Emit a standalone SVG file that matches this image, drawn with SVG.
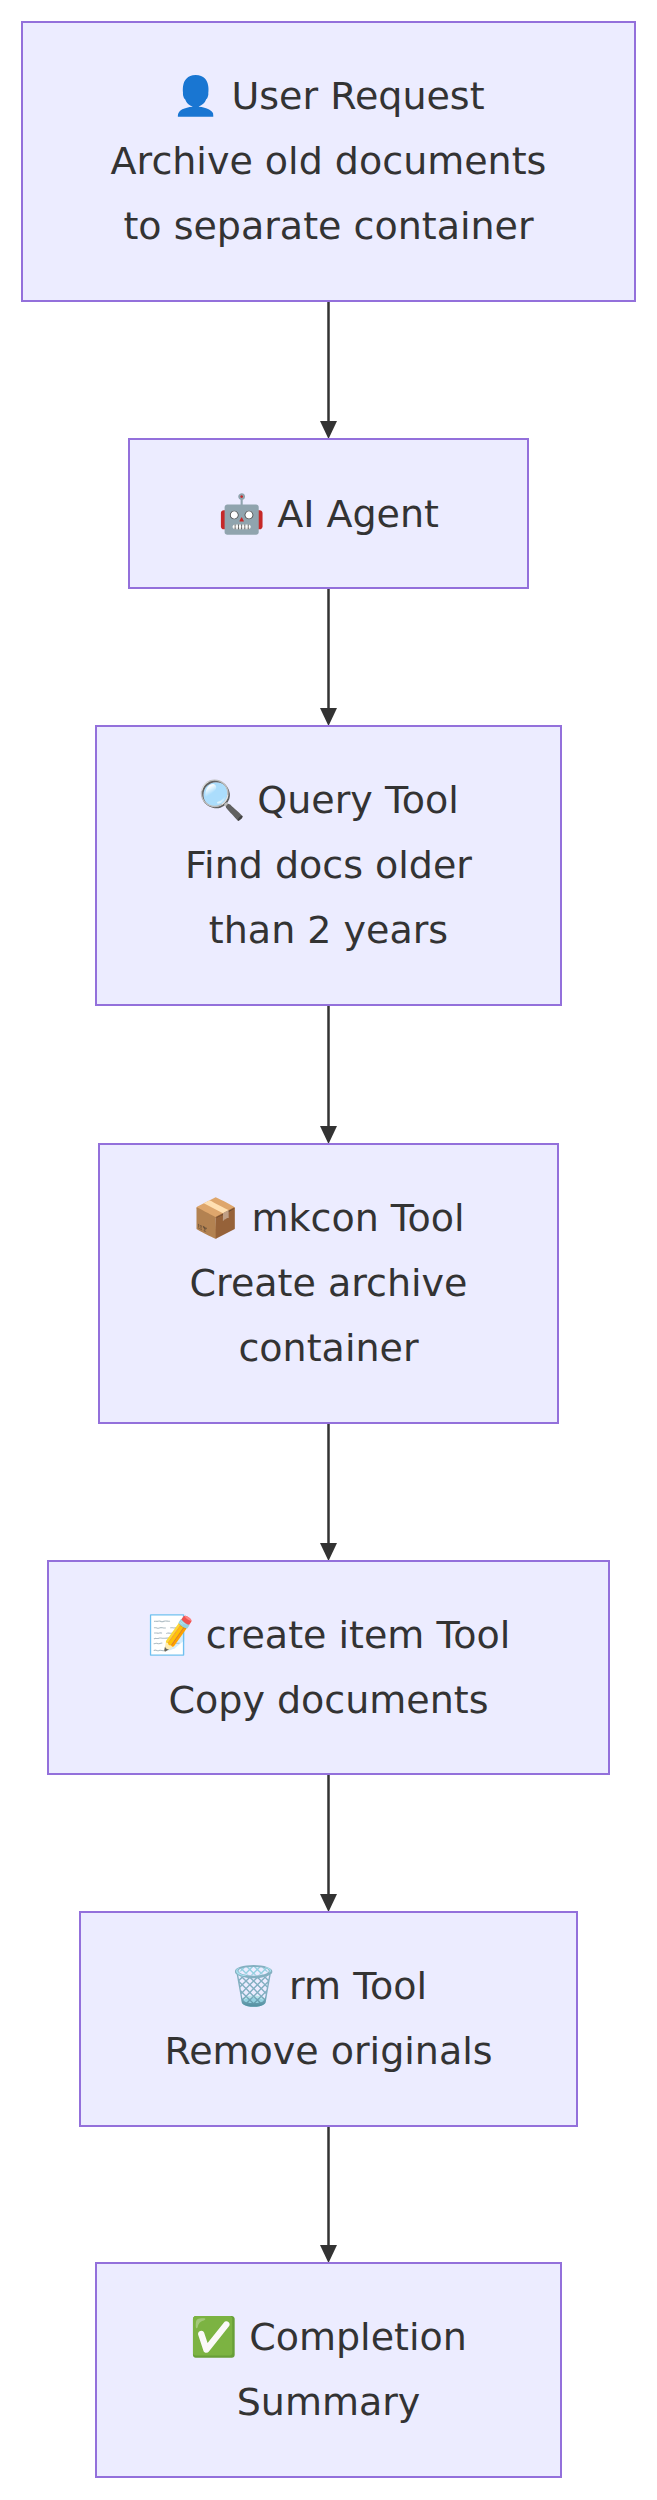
<svg xmlns="http://www.w3.org/2000/svg" width="657" height="2500" viewBox="0 0 657 2500">
<style>
rect{fill:#ECECFF;stroke:#9370DB;stroke-width:2}
text{font-family:"DejaVu Sans","Noto Sans",sans-serif;font-size:38px;fill:#333;text-anchor:middle}
line{stroke:#333;stroke-width:2.5}
</style>
<rect width="657" height="2500" style="fill:#fff;stroke:none"/>
<g id="connectors">
<line x1="328.5" y1="301" x2="328.5" y2="425"/>
<path d="M320,421L328.5,439L337,421z" fill="#333"/>
<line x1="328.5" y1="588" x2="328.5" y2="712"/>
<path d="M320,708L328.5,726L337,708z" fill="#333"/>
<line x1="328.5" y1="1005" x2="328.5" y2="1130"/>
<path d="M320,1126L328.5,1144L337,1126z" fill="#333"/>
<line x1="328.5" y1="1423" x2="328.5" y2="1547"/>
<path d="M320,1543L328.5,1561L337,1543z" fill="#333"/>
<line x1="328.5" y1="1774" x2="328.5" y2="1898"/>
<path d="M320,1894L328.5,1912L337,1894z" fill="#333"/>
<line x1="328.5" y1="2126" x2="328.5" y2="2249"/>
<path d="M320,2245L328.5,2263L337,2245z" fill="#333"/>
</g>
<g id="n1"><rect x="22" y="22" width="613" height="279"/><text x="328.5" y="109">👤 User Request</text><text x="328.5" y="174">Archive old documents</text><text x="328.5" y="239">to separate container</text></g>
<g id="n2"><rect x="129" y="439" width="399" height="149"/><text x="328.5" y="527">🤖 AI Agent</text></g>
<g id="n3"><rect x="96" y="726" width="465" height="279"/><text x="328.5" y="813">🔍 Query Tool</text><text x="328.5" y="878">Find docs older</text><text x="328.5" y="943">than 2 years</text></g>
<g id="n4"><rect x="99" y="1144" width="459" height="279"/><text x="328.5" y="1231">📦 mkcon Tool</text><text x="328.5" y="1296">Create archive</text><text x="328.5" y="1361">container</text></g>
<g id="n5"><rect x="48" y="1561" width="561" height="213"/><text x="328.5" y="1648">📝 create item Tool</text><text x="328.5" y="1713">Copy documents</text></g>
<g id="n6"><rect x="80" y="1912" width="497" height="214"/><text x="328.5" y="1999">🗑️ rm Tool</text><text x="328.5" y="2064">Remove originals</text></g>
<g id="n7"><rect x="96" y="2263" width="465" height="214"/><text x="328.5" y="2350">✅ Completion</text><text x="328.5" y="2415">Summary</text></g>
</svg>
